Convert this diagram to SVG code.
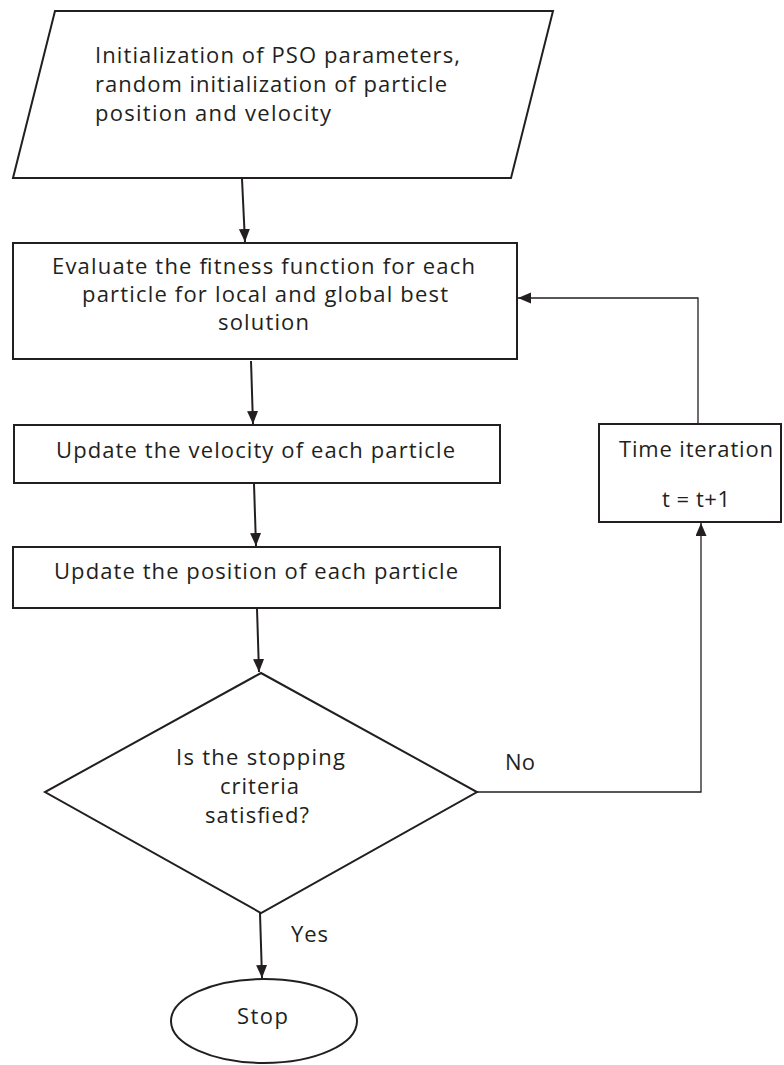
<svg xmlns="http://www.w3.org/2000/svg" width="784" height="1065" viewBox="0 0 784 1065">
  <defs>
    <marker id="ah" markerUnits="userSpaceOnUse" markerWidth="14" markerHeight="12" refX="13" refY="5.5" orient="auto">
      <path d="M0,0 L13,5.5 L0,11 z" fill="#231f20"/>
    </marker>
    <style>
      .shape { fill: #ffffff; stroke: #231f20; stroke-width: 2; }
      .conn { fill: none; stroke: #231f20; stroke-width: 2; }
      .thin { fill: none; stroke: #231f20; stroke-width: 1.3; }
      text { font-family: "Open Sans", "Noto Sans", sans-serif; font-size: 22px; fill: #231f20; }
    </style>
  </defs>
  <rect width="784" height="1065" fill="#ffffff"/>

  <g id="connectors">
    <line class="conn" x1="242" y1="179" x2="245" y2="242" marker-end="url(#ah)"/>
    <line class="conn" x1="251" y1="361" x2="253" y2="424" marker-end="url(#ah)"/>
    <line class="conn" x1="254" y1="484" x2="256" y2="546" marker-end="url(#ah)"/>
    <line class="conn" x1="257" y1="609" x2="259" y2="672" marker-end="url(#ah)"/>
    <polyline class="thin" points="477,792 701,792 701,523" marker-end="url(#ah)"/>
    <polyline class="thin" points="698,424 698,298 518,298" marker-end="url(#ah)"/>
    <line class="conn" x1="260" y1="913" x2="262" y2="978" marker-end="url(#ah)"/>
    <text x="505" y="770" textLength="30" lengthAdjust="spacing">No</text>
    <text x="291" y="942" textLength="37" lengthAdjust="spacing">Yes</text>
  </g>

  <g id="init">
    <polygon class="shape" points="55,11 553,11 511,178 13,178"/>
    <text x="95" y="63" textLength="365" lengthAdjust="spacing">Initialization of PSO parameters,</text>
    <text x="95" y="92" textLength="352" lengthAdjust="spacing">random initialization of particle</text>
    <text x="95" y="121" textLength="236" lengthAdjust="spacing">position and velocity</text>
  </g>

  <g id="evaluate">
    <rect class="shape" x="13" y="243" width="504" height="116"/>
    <text x="52" y="274" textLength="423" lengthAdjust="spacing">Evaluate the fitness function for each</text>
    <text x="82" y="302" textLength="366" lengthAdjust="spacing">particle for local and global best</text>
    <text x="218" y="330" textLength="91" lengthAdjust="spacing">solution</text>
  </g>

  <g id="velocity">
    <rect class="shape" x="14" y="425" width="486" height="58"/>
    <text x="56" y="458" textLength="399" lengthAdjust="spacing">Update the velocity of each particle</text>
  </g>

  <g id="position">
    <rect class="shape" x="13" y="547" width="487" height="61"/>
    <text x="54" y="579" textLength="404" lengthAdjust="spacing">Update the position of each particle</text>
  </g>

  <g id="decision">
    <polygon class="shape" points="261,673 477,792 261,913 45,792"/>
    <text x="176" y="765" textLength="169" lengthAdjust="spacing">Is the stopping</text>
    <text x="220" y="794" textLength="79" lengthAdjust="spacing">criteria</text>
    <text x="205" y="823" textLength="104" lengthAdjust="spacing">satisfied?</text>
  </g>

  <g id="time">
    <rect class="shape" x="599" y="424" width="182" height="98"/>
    <text x="619" y="457" textLength="154" lengthAdjust="spacing">Time iteration</text>
    <text x="662" y="507" textLength="68" lengthAdjust="spacing">t = t+1</text>
  </g>

  <g id="stop">
    <ellipse class="shape" cx="264" cy="1021" rx="93" ry="42"/>
    <text x="237" y="1024" textLength="51" lengthAdjust="spacing">Stop</text>
  </g>
</svg>
